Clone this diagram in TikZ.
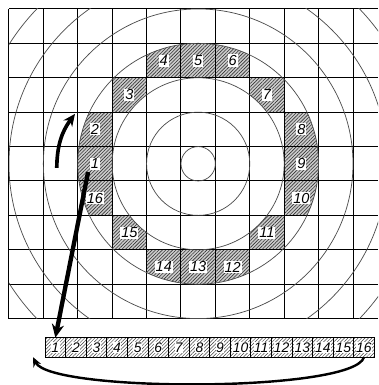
\documentclass[tikz,border=0pt]{standalone}
\usepackage{fontspec}
\newfontfamily\cellfont{Liberation Sans}
\usetikzlibrary{arrows.meta,patterns.meta,positioning}

\begin{document}
\begin{tikzpicture}[
    hatched/.style={pattern={Lines[angle=45,distance=2pt,line width=0.5pt]},pattern color=black!80},
    cellnum/.style={fill=white,inner sep=0.8pt,font=\cellfont\itshape\fontsize{12}{13}\selectfont},
    slotbox/.style={draw,line width=0.6pt,minimum width=0.598cm,minimum height=0.57cm,inner sep=0pt,outer sep=0pt,
      pattern={Lines[angle=45,distance=2pt,line width=0.4pt]},pattern color=black!75},
    slotnum/.style={fill=white,inner sep=0.3pt,font=\cellfont\itshape\fontsize{11.5}{12}\selectfont},
    bigarrow/.style={line width=3pt,-{Stealth[length=10pt,width=9pt]}}
  ]
  \useasboundingbox (-5.76,-6.43) rectangle (5.23,4.76);

  % shaded parts of the ring
  \foreach \n/\x/\y in {1/-3/0,2/-3/1,3/-2/2,4/-1/3,5/0/3,6/1/3,7/2/2,8/3/1,
                        9/3/0,10/3/-1,11/2/-2,12/1/-3,13/0/-3,14/-1/-3,15/-2/-2,16/-3/-1} {
    \begin{scope}
      \clip (\x-0.5,\y-0.5) rectangle ++(1,1);
      \fill[gray!40,even odd rule] (0,0) circle (3.5) circle (2.5);
      \fill[hatched,even odd rule] (0,0) circle (3.5) circle (2.5);
    \end{scope}
  }

  % grid and circles
  \draw[line width=0.8pt,shift={(0.5,0.5)}] (-6,-5) grid (4.73,4);
  \begin{scope}
    \clip (-5.5,-4.5) rectangle (5.23,4.5);
    \foreach \r in {0.5,1.5,...,6.5}
      \draw[gray!60!black,line width=0.6pt] (0,0) circle (\r);
  \end{scope}

  % cell numbers
  \foreach \n/\x/\y in {1/-3/0,2/-3/1,3/-2/2,4/-1/3,5/0/3,6/1/3,7/2/2,8/3/1,
                        9/3/0,10/3/-1,11/2/-2,12/1/-3,13/0/-3,14/-1/-3,15/-2/-2,16/-3/-1}
    \node[cellnum] (c\n) at (\x,\y) {\n};

  % unrolled strip
  \foreach \i in {1,...,16} {
    \node[slotbox] (s\i) at ({-4.45+0.598*(\i-0.5)},-5.34) {};
    \node[slotnum] at (s\i) {\i};
  }

  % arrows
  \coordinate (turnA) at (-4.11,-0.12);
  \coordinate (turnB) at (-3.58,1.45);
  \draw[bigarrow] (turnA) to[bend left=18] (turnB);

  \coordinate (cut) at (-3.2,-0.24);
  \draw[line width=3.6pt,-{Stealth[length=11pt,width=10pt]}] (cut) -- (s1.north);

  \coordinate (back) at (-4.80,-5.62);
  \draw[line width=2pt,-{Stealth[length=8pt,width=7pt]}]
    (s16.south) .. controls (4.5,-6.65) and (-4.3,-6.65) .. (back);
\end{tikzpicture}
\end{document}
